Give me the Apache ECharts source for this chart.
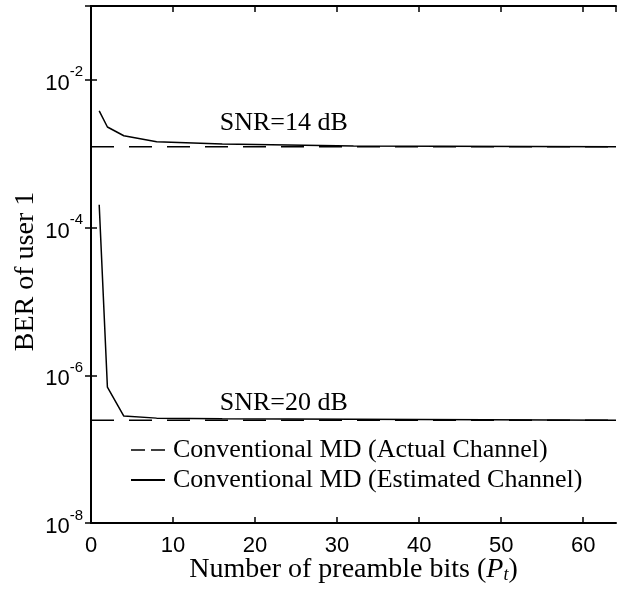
<!DOCTYPE html>
<html>
<head>
<meta charset="utf-8">
<script src="https://cdn.jsdelivr.net/npm/echarts@6/dist/echarts.min.js"></script>
<style>
  html, body { margin: 0; padding: 0; background: #fff; }
  #chart { width: 626px; height: 590px; }
</style>
</head>
<body>
<div id="chart"></div>
<script>
// preamble lengths for the estimated-channel curves
const preambleBits = [1, 2, 4, 8, 16, 32, 64];
// flat reference span for the actual-channel lines
const actualSpan = [0, 64];

const actual14 = [1.24e-3, 1.24e-3];
const actual20 = [2.47e-7, 2.47e-7];
const estimated14 = [3.8e-3, 2.3e-3, 1.75e-3, 1.45e-3, 1.35e-3, 1.27e-3, 1.24e-3];
const estimated20 = [2.04e-4, 6.9e-7, 2.8e-7, 2.63e-7, 2.58e-7, 2.53e-7, 2.47e-7];

const nameActual = 'Conventional MD (Actual Channel)';
const nameEstimated = 'Conventional MD (Estimated Channel)';

const serif = '"Liberation Serif", "Times New Roman", serif';
const sans = '"Liberation Sans", Arial, sans-serif';

const pair = (xs, ys) => xs.map((x, i) => [x, ys[i]]);

const chart = echarts.init(document.getElementById('chart'));

const axisLineStyle = { color: '#000', width: 2 };

const snrLabel = (text, coord) => ({
    symbol: 'circle',
    symbolSize: 0,
    label: { show: true, position: 'inside', formatter: text, fontFamily: serif, fontSize: 26, color: '#000' },
    data: [{ coord: coord }]
});

const option = {
    animation: false,
    backgroundColor: '#fff',
    grid: { left: 91, right: 10, top: 6, bottom: 67, outerBoundsMode: 'none' },
    legend: {
        orient: 'vertical',
        left: 125,
        top: 432,
        itemWidth: 34,
        itemHeight: 20,
        itemGap: 4,
        itemStyle: { opacity: 0 },
        textStyle: { fontFamily: serif, fontSize: 26, color: '#000', padding: [0, 0, 0, 3] },
        data: [
            { name: nameActual, lineStyle: { type: [14, 6], width: 1.5 } },
            { name: nameEstimated }
        ]
    },
    xAxis: [
        {
            type: 'value',
            min: 0,
            max: 64,
            interval: 10,
            name: 'Number of preamble bits ({i|P}{s|t})',
            nameLocation: 'middle',
            nameGap: 33,
            nameMoveOverlap: false,
            nameTextStyle: {
                fontFamily: serif, fontSize: 28, color: '#000',
                rich: {
                    i: { fontFamily: serif, fontSize: 28, fontStyle: 'italic', color: '#000' },
                    s: { fontFamily: serif, fontSize: 18, fontStyle: 'italic', color: '#000', verticalAlign: 'bottom', padding: [10, 0, 0, 0] }
                }
            },
            axisLine: { lineStyle: axisLineStyle },
            axisTick: { inside: true, length: 6, lineStyle: { color: '#000', width: 1.5 } },
            axisLabel: { showMaxLabel: false, margin: 12, fontFamily: sans, fontSize: 22, color: '#000' },
            splitLine: { show: false }
        },
        {
            type: 'value',
            position: 'top',
            min: 0,
            max: 64,
            interval: 10,
            axisLine: { lineStyle: axisLineStyle },
            axisTick: { inside: true, length: 6, lineStyle: { color: '#000', width: 1.5 } },
            axisLabel: { show: false },
            splitLine: { show: false }
        }
    ],
    yAxis: [
        {
            type: 'log',
            logBase: 10,
            min: 1e-8,
            max: 1e-1,
            interval: 2,
            name: 'BER of user 1',
            nameLocation: 'middle',
            nameGap: 51,
            nameMoveOverlap: false,
            nameTextStyle: { fontFamily: serif, fontSize: 28, color: '#000', padding: [0, 14, 0, 0] },
            axisLine: { lineStyle: axisLineStyle },
            axisTick: { inside: true, length: 6, lineStyle: { color: '#000', width: 1.5 } },
            minorTick: { show: false },
            axisLabel: {
                showMaxLabel: false,
                margin: 8,
                formatter: v => '{b|10}{e|' + Math.round(Math.log10(v)) + '}',
                rich: {
                    b: { fontFamily: sans, fontSize: 22, color: '#000', verticalAlign: 'bottom', lineHeight: 30 },
                    e: { fontFamily: sans, fontSize: 15, color: '#000', verticalAlign: 'top', lineHeight: 30 }
                }
            },
            splitLine: { show: false }
        },
        {
            type: 'log',
            logBase: 10,
            position: 'right',
            min: 1e-8,
            max: 1e-1,
            interval: 2,
            axisLine: { lineStyle: axisLineStyle },
            axisTick: { inside: true, length: 6, lineStyle: { color: '#000', width: 1.5 } },
            axisLabel: { show: false },
            splitLine: { show: false }
        }
    ],
    series: [
        {
            name: nameActual,
            type: 'line',
            data: pair(actualSpan, actual14),
            symbol: 'none',
            lineStyle: { color: '#000', width: 1.5, type: [23, 15] },
            itemStyle: { color: '#000' }
        },
        {
            name: nameActual,
            type: 'line',
            data: pair(actualSpan, actual20),
            symbol: 'none',
            lineStyle: { color: '#000', width: 1.5, type: [23, 15] },
            itemStyle: { color: '#000' }
        },
        {
            name: nameEstimated,
            type: 'line',
            data: pair(preambleBits, estimated14),
            symbol: 'none',
            lineStyle: { color: '#000', width: 1.5 },
            itemStyle: { color: '#000' },
            markPoint: snrLabel('SNR=14 dB', [23.5, 2.57e-3])
        },
        {
            name: nameEstimated,
            type: 'line',
            data: pair(preambleBits, estimated20),
            symbol: 'none',
            lineStyle: { color: '#000', width: 1.5 },
            itemStyle: { color: '#000' },
            markPoint: snrLabel('SNR=20 dB', [23.5, 4.13e-7])
        }
    ]
};

chart.setOption(option);
</script>
</body>
</html>
